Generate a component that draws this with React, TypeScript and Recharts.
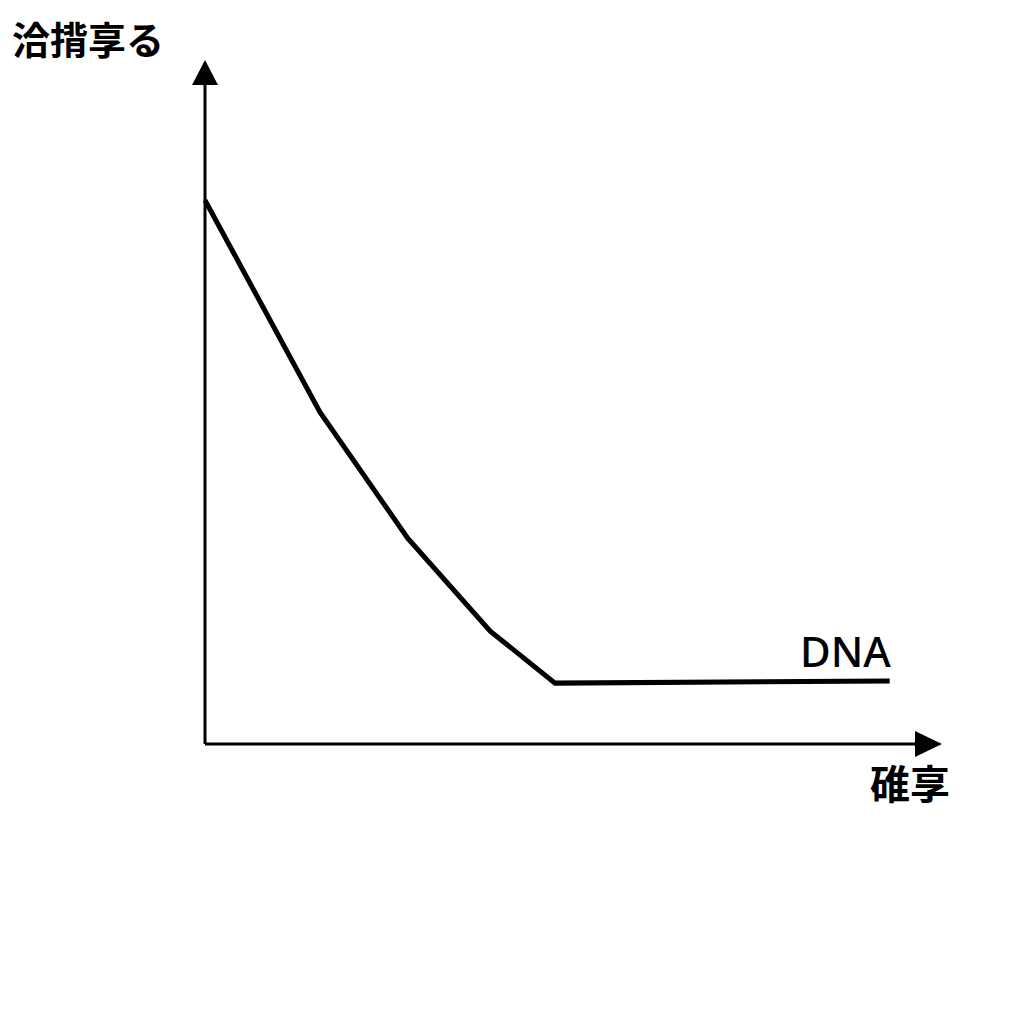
import { LineChart, Line, XAxis, YAxis, ReferenceLine, ReferenceDot } from "recharts";

const xs = [0, 15.6, 27.5, 38.7, 47.5, 92.9];
const ys = [79.5, 48.5, 30.1, 16.5, 8.9, 9.2];
const seriesName = "DNA";
const xTitle = "碓享";
const yTitle = "洽揹享る";

const data = xs.map((x, i) => ({ x, y: ys[i] }));

const UpArrow = (props: any) => {
  const { cx, cy } = props;
  return <polygon points={`${cx},${cy} ${cx - 13},${cy + 25} ${cx + 13},${cy + 25}`} fill="#000" />;
};

const RightArrow = (props: any) => {
  const { cx, cy } = props;
  return <polygon points={`${cx},${cy} ${cx - 27},${cy - 13} ${cx - 27},${cy + 13}`} fill="#000" />;
};

const App = () => {
  return (
    <div style={{ position: "relative", width: 1008, height: 1000 }}>
      <LineChart
        width={1008}
        height={1000}
        data={data}
        margin={{ top: 52, right: 74, bottom: 264, left: 197 }}
      >
        <XAxis type="number" dataKey="x" domain={[0, 100]} hide />
        <YAxis type="number" domain={[0, 100]} hide />
        <ReferenceLine
          segment={[{ x: 0, y: 0 }, { x: 0, y: 97 }]}
          stroke="#000"
          strokeWidth={3}
        />
        <ReferenceLine
          segment={[{ x: 0, y: 0 }, { x: 97, y: 0 }]}
          stroke="#000"
          strokeWidth={3}
        />
        <ReferenceDot x={0} y={100} r={1} shape={UpArrow} />
        <ReferenceDot x={100} y={0} r={1} shape={RightArrow} />
        <Line
          type="linear"
          dataKey="y"
          stroke="#000"
          strokeWidth={5}
          dot={false}
          isAnimationActive={false}
        />
      </LineChart>
      <div
        style={{
          position: "absolute",
          left: 4,
          top: 11,
          fontFamily: "'Noto Sans CJK JP'",
          fontWeight: 700,
          fontSize: 38,
          lineHeight: 1,
          whiteSpace: "nowrap",
        }}
      >
        {yTitle}
      </div>
      <div
        style={{
          position: "absolute",
          left: 862,
          top: 754,
          fontFamily: "'Noto Sans CJK JP'",
          fontWeight: 700,
          fontSize: 40,
          lineHeight: 1,
          whiteSpace: "nowrap",
        }}
      >
        {xTitle}
      </div>
      <div
        style={{
          position: "absolute",
          left: 792,
          top: 622,
          fontFamily: "'Noto Sans'",
          fontWeight: 500,
          fontSize: 42,
          lineHeight: 1,
          whiteSpace: "nowrap",
        }}
      >
        {seriesName}
      </div>
    </div>
  );
};

export default App;
